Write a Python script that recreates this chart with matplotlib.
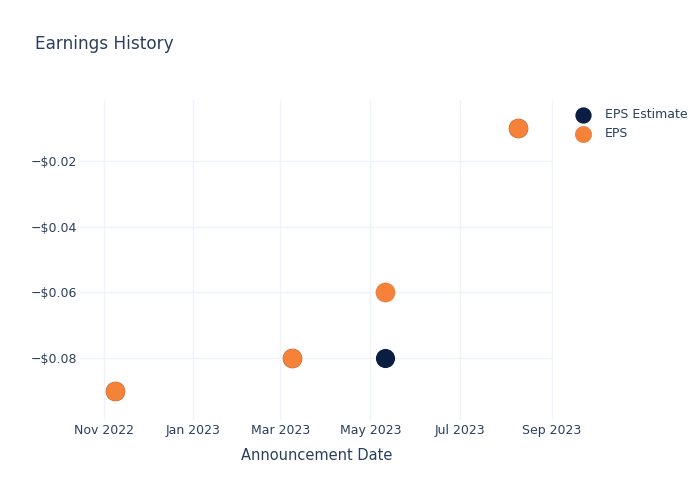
import datetime as dt

import matplotlib
matplotlib.use("Agg")
import matplotlib.dates as mdates
import matplotlib.pyplot as plt
from matplotlib.ticker import FuncFormatter

# values
dates = [dt.datetime(2022, 11, 9), dt.datetime(2023, 3, 9),
         dt.datetime(2023, 5, 11), dt.datetime(2023, 8, 9)]
eps_estimate = [-0.09, -0.08, -0.08, -0.01]
eps_actual = [-0.09, -0.08, -0.06, -0.01]
tick_dates = [dt.datetime(2022, 11, 1), dt.datetime(2023, 1, 1), dt.datetime(2023, 3, 1),
              dt.datetime(2023, 5, 1), dt.datetime(2023, 7, 1), dt.datetime(2023, 9, 1)]
y_ticks = [-0.08, -0.06, -0.04, -0.02]

TEXT = "#2a3f5f"
GRID = "#eef2f9"
NAVY = "#0b1d40"
ORANGE = "#f6823a"

plt.rcParams["font.family"] = ["DejaVu Sans"]

fig = plt.figure(figsize=(7, 5), dpi=100)
ax = fig.add_axes([80 / 700, 80 / 500, 473 / 700, 320 / 500])

ax.scatter(dates, eps_estimate, s=190, color=NAVY, zorder=3, label="EPS Estimate",
           linewidths=0)
ax.scatter(dates, eps_actual, s=190, color=ORANGE, zorder=4, label="EPS",
           edgecolors="#d9773a", linewidths=0.4)

ax.set_xlim(dt.datetime(2022, 10, 16), dt.datetime(2023, 9, 2))
ax.set_ylim(-0.09888, -0.00142)

ax.set_xticks(tick_dates)
ax.xaxis.set_major_formatter(mdates.DateFormatter("%b %Y"))
ax.set_yticks(y_ticks)
ax.yaxis.set_major_formatter(FuncFormatter(
    lambda v, _: ("\u2212" if v < 0 else "") + f"${abs(v):.2f}"))

ax.grid(True, color=GRID, linewidth=1)
ax.set_axisbelow(True)
for sp in ax.spines.values():
    sp.set_visible(False)
ax.tick_params(length=0, labelsize=9, labelcolor=TEXT)
ax.tick_params(axis="y", pad=2)
ax.tick_params(axis="x", pad=3)

ax.set_xlabel("Announcement Date", fontsize=10.5, color=TEXT, labelpad=8)

fig.text(35 / 700, 1 - 44 / 500, "Earnings History", fontsize=12.2, color=TEXT,
         va="center", ha="left")

leg = ax.legend(loc="upper left", bbox_to_anchor=(559 / 700, 1 - 97 / 500),
                bbox_transform=fig.transFigure, frameon=False, fontsize=9,
                labelcolor=TEXT, handletextpad=0.75, labelspacing=0.45,
                markerscale=0.85)

fig.savefig("out.png", dpi=100)
